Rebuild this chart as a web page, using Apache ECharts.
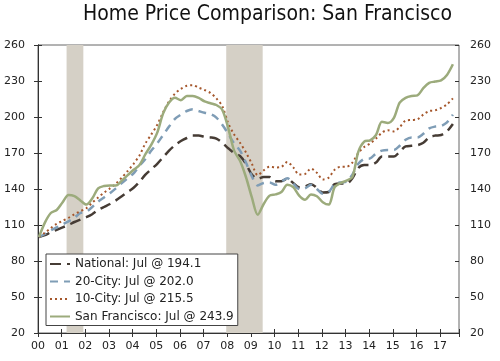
<!DOCTYPE html>
<html><head><meta charset="utf-8">
<script src="https://cdn.jsdelivr.net/npm/echarts@6/dist/echarts.min.js"></script>
<style>html,body{margin:0;padding:0;background:#fff}#c{width:500px;height:361px}</style>
</head><body><div id="c"></div><script>
const quarters = [
'2000-01','2000-04','2000-07','2000-10','2001-01','2001-04','2001-07','2001-10',
'2002-01','2002-04','2002-07','2002-10','2003-01','2003-04','2003-07','2003-10',
'2004-01','2004-04','2004-07','2004-10','2005-01','2005-04','2005-07','2005-10',
'2006-01','2006-04','2006-07','2006-10','2007-01','2007-04','2007-07','2007-10',
'2008-01','2008-04','2008-07','2008-10','2009-01','2009-04','2009-07','2009-10',
'2010-01','2010-04','2010-07','2010-10','2011-01','2011-04','2011-07','2011-10',
'2012-01','2012-04','2012-07','2012-10','2013-01','2013-04','2013-07','2013-10',
'2014-01','2014-04','2014-07','2014-10','2015-01','2015-04','2015-07','2015-10',
'2016-01','2016-04','2016-07','2016-10','2017-01','2017-04','2017-07'];

const national = [
100,101.5,104,106, 108,110,112.5,114.5, 116.5,119,122.5,125, 127.5,130.5,134,137.5,
141,146,152,156.5, 161,166.5,172,176.5, 180,182.5,184.5,184.5, 183.5,183,182,178.5,
174,170,167.5,161, 152,148.5,150,150, 146.5,146.5,148.5,145, 141.5,142,144,141,
137,137.5,144,144.5, 144.5,149,157.5,160, 160,162,167,167, 167,171,175.5,176,
176.5,178.5,183,184.5, 185,188,194.1];

const city20 = [
100,102.5,105.5,108, 110.5,113,116,120, 121,125,129.5,133, 136.5,140.5,145,149,
153,159.5,165,172, 178,185,192,198.5, 202,205,206.5,205, 203.5,202.5,199.5,193.5,
186,178,172,162, 150.5,143,145,145.5, 143.5,146,149,144.5, 140,140.5,143.5,140,
136,137.5,144,145.5, 146,152,161,165, 165.5,169.5,172,172.5, 172.5,176,181,183,
183,186,190.5,192, 192.5,195.5,202.0];

const city10 = [
100,103.5,107.5,111, 113.5,116,119,121.5, 124,128.5,133,137, 140.5,144.5,149.5,155,
161,168,178,185.5, 193.5,204,213,219.5, 223.5,226,226.5,224.5, 222.5,220,215.5,209,
195,185.5,178.5,170.5, 161,151.5,155.5,158.5, 158,158.5,162.5,158, 152,152.5,157,153.5,
148,149.5,156,158.5, 158.5,162,170,175, 178,182,187,189, 188,191.5,197,197.5,
198,202,205,205.5, 207.5,210.5,215.5];

const sanFrancisco = [
100,112,120,122.5, 129,135,134,130.5, 127,132,140.5,142.5, 143,143,147,151.5,
156,160,169,177, 187,203,212,216, 214,217.5,217.5,216, 213,211.5,210,206,
191,172,163.5,150, 133,118.5,127.5,134.5, 135.5,137.5,143.5,141.5, 134.5,131,135.5,134,
129,127,141.5,145, 147,150,171,179.5, 180.5,185,196,195, 199,212,216,217.5,
218,224,228.5,229.5, 230.5,235,243.9];

const seriesNames = ['National: Jul @ 194.1','20-City: Jul @ 202.0','10-City: Jul @ 215.5','San Francisco: Jul @ 243.9'];
const yearLabels = ['00','01','02','03','04','05','06','07','08','09','10','11','12','13','14','15','16','17'];
const recessions = [['2001-03','2001-11'],['2007-12','2009-06']];
const titleText = 'Home Price Comparison: San Francisco';

function toX(d){ const p = d.split('-').map(Number); return p[0] - 2000 + (p[1] - 0.5) / 12; }
function endX(d){ const p = d.split('-').map(Number); return p[0] - 2000 + p[1] / 12; }
function pts(vals){ return quarters.map((d, i) => [toX(d), vals[i]]); }

const FONT = 'DejaVu Sans';
const AX = '#333';

const chart = echarts.init(document.getElementById('c'), null, {renderer: 'canvas'});

const baseX = {type: 'value', min: 0, max: 17.8, interval: 1, splitLine: {show: false}};
const baseY = {type: 'value', min: 20, max: 260, interval: 30, splitLine: {show: false}};
const lbl = {fontFamily: FONT, fontSize: 11, color: '#222'};

const styles = [
  {color: '#463c35', width: 2.5, type: [11, 6]},
  {color: '#7f9db6', width: 2.5, type: [8, 6]},
  {color: '#a5572c', width: 2, type: [2, 3]},
  {color: '#9cab7c', width: 2.5, type: 'solid'}
];
const dataSets = [national, city20, city10, sanFrancisco];

const series = [{
  type: 'line', name: 'recession', data: [], z: 1, silent: true,
  markArea: {silent: true, itemStyle: {color: '#d5d0c6'},
    data: recessions.map(r => [{xAxis: toX(r[0])}, {xAxis: endX(r[1])}])}
}];
dataSets.forEach((vals, i) => {
  series.push({
    type: 'line', name: seriesNames[i], data: pts(vals), showSymbol: false, symbol: 'none',
    smooth: 0.3, z: 2 + i,
    lineStyle: {color: styles[i].color, width: styles[i].width, type: styles[i].type},
    itemStyle: {color: styles[i].color}
  });
});

chart.setOption({
  animation: false,
  backgroundColor: '#fff',
  title: {text: titleText, left: 83, top: 4, padding: 0,
    textStyle: {fontFamily: '"DejaVu Sans Condensed", "DejaVu Sans"', fontSize: 21, fontWeight: 'normal', color: '#111'}},
  grid: {left: 38, right: 41, top: 45, bottom: 28, show: true, borderColor: '#666', borderWidth: 1},
  legend: {
    data: seriesNames, orient: 'vertical', left: 46, top: 254,
    itemWidth: 20, itemHeight: 12, itemGap: 5.5, padding: [4, 4, 3, 3],
    backgroundColor: '#fff', borderColor: '#444', borderWidth: 1, borderRadius: 0,
    itemStyle: {opacity: 0},
    textStyle: {fontFamily: FONT, fontSize: 12, color: '#222', lineHeight: 12},
    selectedMode: false
  },
  xAxis: [
    Object.assign({}, baseX, {position: 'bottom',
      axisLine: {lineStyle: {color: AX, width: 1}},
      axisTick: {length: 4, lineStyle: {color: AX}},
      axisLabel: Object.assign({}, lbl, {margin: 8,
        formatter: v => (Math.abs(v - Math.round(v)) < 1e-6 && yearLabels[Math.round(v)]) || ''})}),
    Object.assign({}, baseX, {position: 'bottom',
      axisLine: {show: false},
      axisTick: {inside: true, length: 4, lineStyle: {color: AX}},
      axisLabel: {show: false}})
  ],
  yAxis: [
    Object.assign({}, baseY, {position: 'left',
      axisLine: {show: true, lineStyle: {color: AX}},
      axisTick: {show: true, length: 4, lineStyle: {color: AX}},
      axisLabel: Object.assign({}, lbl, {margin: 13})}),
    Object.assign({}, baseY, {position: 'right',
      axisLine: {show: true, lineStyle: {color: AX}},
      axisTick: {show: true, length: 4, lineStyle: {color: AX}},
      axisLabel: Object.assign({}, lbl, {margin: 11})}),
    Object.assign({}, baseY, {position: 'left',
      axisLine: {show: false},
      axisTick: {show: true, inside: true, length: 4, lineStyle: {color: AX}},
      axisLabel: {show: false}}),
    Object.assign({}, baseY, {position: 'right',
      axisLine: {show: false},
      axisTick: {show: true, inside: true, length: 4, lineStyle: {color: AX}},
      axisLabel: {show: false}})
  ],
  series: series
});
</script></body></html>
